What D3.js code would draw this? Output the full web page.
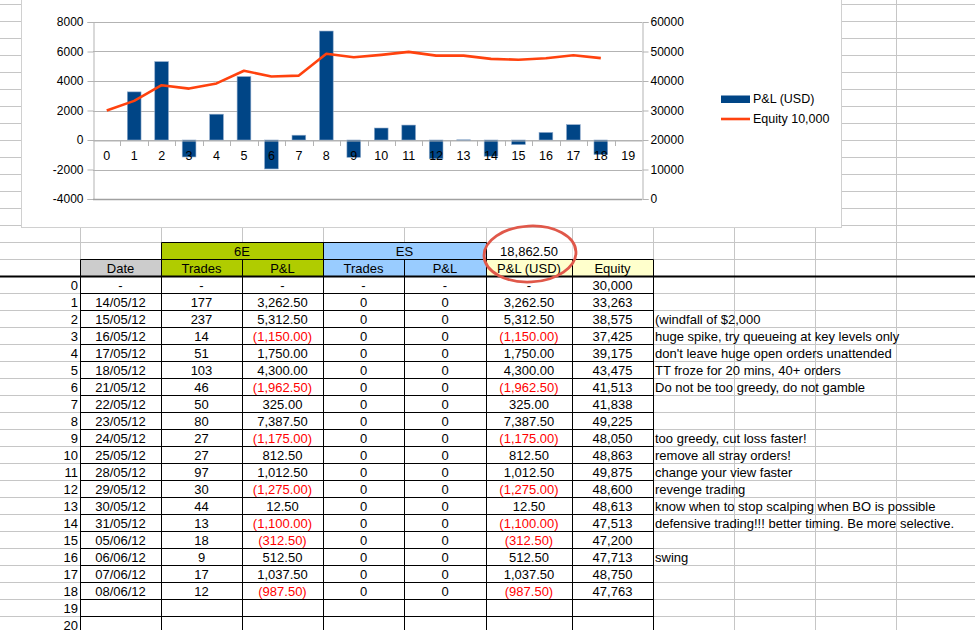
<!DOCTYPE html>
<html>
<head>
<meta charset="utf-8">
<script src="https://cdn.jsdelivr.net/npm/d3@7"></script>
<style>
  body { margin: 0; background: #fff; }
  svg { display: block; font-family: "Liberation Sans", Arial, sans-serif; }
  .cell { font-size: 13px; fill: #000; }
  .neg { fill: #ff0000; }
  .axis text { font-size: 12px; fill: #000; font-family: "Liberation Sans", Arial, sans-serif; }
</style>
</head>
<body>
<svg id="sheet" width="975" height="630"></svg>
<script>
// ---- data ----
const categories = d3.range(0, 20)          // chart x categories 0..19
const dates  = ["14/05/12","15/05/12","16/05/12","17/05/12","18/05/12","21/05/12","22/05/12","23/05/12","24/05/12",
                "25/05/12","28/05/12","29/05/12","30/05/12","31/05/12","05/06/12","06/06/12","07/06/12","08/06/12"]
const trades = [177,237,14,51,103,46,50,80,27,27,97,30,44,13,18,9,17,12]
const pnl    = [3262.5,5312.5,-1150,1750,4300,-1962.5,325,7387.5,-1175,812.5,1012.5,-1275,12.5,-1100,-312.5,512.5,1037.5,-987.5]
const equity = [30000,33263,38575,37425,39175,43475,41513,41838,49225,48050,48863,49875,48600,48613,47513,47200,47713,48750,47763]
const leftTicks  = [-4000,-2000,0,2000,4000,6000,8000]
const rightTicks = [0,10000,20000,30000,40000,50000,60000]
const seriesNames = ["P&L (USD)", "Equity 10,000"]
const notes = ["", "", "(windfall of $2,000", "huge spike, try queueing at key levels only",
               "don't leave huge open orders unattended", "TT froze for 20 mins, 40+ orders",
               "Do not be too greedy, do not gamble", "", "", "too greedy, cut loss faster!",
               "remove all stray orders!", "change your view faster", "revenge trading",
               "know when to stop scalping when BO is possible",
               "defensive trading!!! better timing. Be more selective.", "", "swing"]
const totalLabel = "18,862.50"

const svg = d3.select("#sheet")

// ---- sheet layout ----
const gridCols = [80,161,242,323,404,486,572,653,734,815,896,977]
const tableCols = gridCols.slice(0, 8)      // bordered table columns
const rowH = 17
const row0 = 276                            // top of data row 0
const gridGrey = "#c6c6c6"

// background grid
const grid = svg.append("g")
grid.selectAll(".h").data(d3.range(4, 631, rowH)).join("line")
    .attr("x1", 0).attr("x2", 975).attr("y1", d => d + 0.5).attr("y2", d => d + 0.5)
    .attr("stroke", gridGrey)
grid.selectAll(".v").data(gridCols).join("line")
    .attr("x1", d => d + 0.5).attr("x2", d => d + 0.5).attr("y1", 0).attr("y2", 630)
    .attr("stroke", gridGrey)

// ---- chart box ----
svg.append("rect").attr("x", 21.5).attr("y", -5).attr("width", 820).attr("height", 232.5)
    .attr("fill", "#fff").attr("stroke", "#d0d0d0")

const x = d3.scaleBand().domain(categories).range([93, 642])
const yL = d3.scaleLinear().domain([-4000, 8000]).range([199, 22])
const yR = d3.scaleLinear().domain([0, 60000]).range([199, 22])
const bw = x.bandwidth()

// horizontal gridlines
svg.append("g").selectAll("line").data(leftTicks).join("line")
    .attr("x1", 93).attr("x2", 642)
    .attr("y1", d => Math.round(yL(d)) + 0.5).attr("y2", d => Math.round(yL(d)) + 0.5)
    .attr("stroke", "#b3b3b3")

// left axis
const leftAxis = svg.append("g").attr("class", "axis").attr("transform", "translate(93.5,0)")
    .call(d3.axisLeft(yL).tickValues(leftTicks).tickSize(6).tickPadding(4).tickFormat(d => String(d)))
leftAxis.selectAll("line, path").attr("stroke", "#b3b3b3")

// right axis
const rightAxis = svg.append("g").attr("class", "axis").attr("transform", "translate(642.5,0)")
    .call(d3.axisRight(yR).tickValues(rightTicks).tickSize(6).tickPadding(2).tickFormat(d => String(d)))
rightAxis.selectAll("line, path").attr("stroke", "#b3b3b3")

// bottom frame
svg.append("line").attr("x1", 93).attr("x2", 642).attr("y1", 199.5).attr("y2", 199.5)
    .attr("stroke", "#a0a0a0").attr("stroke-width", 1.6)

// bars
svg.append("g").selectAll("rect").data(pnl).join("rect")
    .attr("x", (d, i) => x(i + 1) + bw / 4)
    .attr("width", bw / 2)
    .attr("y", d => yL(Math.max(0, d)))
    .attr("height", d => Math.max(0.6, Math.abs(yL(d) - yL(0))))
    .attr("fill", "#004586")
    .attr("stroke", "#8faacb").attr("stroke-width", 0.6)

// category axis on the zero line
const catAxis = svg.append("g").attr("class", "axis").attr("transform", `translate(0,${Math.round(yL(0)) + 0.5})`)
    .call(d3.axisBottom(x).tickSize(0).tickPadding(11))
catAxis.select("path").attr("stroke", "#b3b3b3")
catAxis.selectAll("text").style("font-size", "12.5px")
svg.append("g").selectAll("line").data(categories.slice(1)).join("line")
    .attr("x1", d => Math.round(x(d)) + 0.5).attr("x2", d => Math.round(x(d)) + 0.5)
    .attr("y1", yL(0)).attr("y2", yL(0) + 6)
    .attr("stroke", "#b3b3b3")

// equity line
svg.append("path").datum(equity)
    .attr("d", d3.line().x((d, i) => x(i) + bw / 2).y(d => yR(d)))
    .attr("fill", "none").attr("stroke", "#ff420e").attr("stroke-width", 2.6)
    .attr("stroke-linejoin", "round")

// legend
const legend = svg.append("g").attr("class", "axis")
legend.append("rect").attr("x", 721).attr("y", 95.5).attr("width", 29).attr("height", 7.5).attr("fill", "#004586")
legend.append("line").attr("x1", 721).attr("x2", 750).attr("y1", 119).attr("y2", 119)
    .attr("stroke", "#ff420e").attr("stroke-width", 2.6)
legend.selectAll("text").data(seriesNames).join("text")
    .attr("x", 753).attr("y", (d, i) => 99 + i * 20).attr("dy", "0.35em")
    .style("font-size", "12.5px").text(d => d)

// ---- table ----
const table = svg.append("g")
const cx = i => (tableCols[i] + tableCols[i + 1]) / 2

// header fills
const hdr1 = row0 - 2 * rowH, hdr2 = row0 - rowH
const fills = ["#cccccc", "#b0cc00", "#b0cc00", "#99ccff", "#99ccff", "#ffffcc", "#ffffcc"]
table.selectAll(".hf").data(fills).join("rect")
    .attr("x", (d, i) => tableCols[i] + 0.5).attr("y", hdr2 + 0.5)
    .attr("width", (d, i) => tableCols[i + 1] - tableCols[i]).attr("height", rowH)
    .attr("fill", d => d)
table.append("rect").attr("x", 161.5).attr("y", hdr1 + 0.5).attr("width", 162).attr("height", rowH).attr("fill", "#b0cc00")
table.append("rect").attr("x", 323.5).attr("y", hdr1 + 0.5).attr("width", 163).attr("height", rowH).attr("fill", "#99ccff")
table.append("rect").attr("x", 486.5).attr("y", hdr1 + 0.5).attr("width", 86).attr("height", rowH).attr("fill", "#fff")

// black borders
const blk = []
blk.push([161, hdr1, 486, hdr1], [161, hdr1, 161, hdr2], [323, hdr1, 323, hdr2], [486, hdr1, 486, hdr2])
blk.push([80, hdr2, 653, hdr2])
tableCols.forEach(c => blk.push([c, hdr2, c, 630]))
d3.range(1, 22).forEach(k => blk.push([80, row0 + k * rowH, 653, row0 + k * rowH]))
table.selectAll(".b").data(blk).join("line")
    .attr("x1", d => d[0] + 0.5).attr("y1", d => d[1] + 0.5).attr("x2", d => d[2] + 0.5).attr("y2", d => d[3] + 0.5)
    .attr("stroke", "#000")
table.append("line").attr("x1", 0).attr("x2", 975).attr("y1", row0 + 0.5).attr("y2", row0 + 0.5)
    .attr("stroke", "#000").attr("stroke-width", 2)

// header texts
const base = y => y + rowH / 2 + 5
const hdrTop = [["6E", 242], ["ES", 404.5], [totalLabel, 529]]
table.selectAll(".ht").data(hdrTop).join("text").attr("class", "cell")
    .attr("x", d => d[1]).attr("y", base(hdr1)).attr("text-anchor", "middle").text(d => d[0])
const hdrNames = ["Date", "Trades", "P&L", "Trades", "P&L", "P&L (USD)", "Equity"]
table.selectAll(".hn").data(hdrNames).join("text").attr("class", "cell")
    .attr("x", (d, i) => cx(i)).attr("y", base(hdr2)).attr("text-anchor", "middle").text(d => d)

// row numbers
table.selectAll(".rn").data(d3.range(0, 21)).join("text").attr("class", "cell")
    .attr("x", 78).attr("y", d => base(row0 + d * rowH)).attr("text-anchor", "end").text(d => d)

// data rows
const money = d3.format(",.2f")
const fmtPnl = v => v < 0 ? `(${money(-v)})` : money(v)
const rows = [["-", "-", "-", "-", "-", "-", d3.format(",")(equity[0])]]
dates.forEach((d, i) => rows.push([d, trades[i], fmtPnl(pnl[i]), "0", "0", fmtPnl(pnl[i]), d3.format(",")(equity[i + 1])]))
const cells = []
rows.forEach((r, ri) => r.forEach((v, ci) => cells.push({ v, ri, ci, neg: (ci === 2 || ci === 5) && ri > 0 && pnl[ri - 1] < 0 })))
table.selectAll(".dc").data(cells).join("text")
    .attr("class", d => d.neg ? "cell neg" : "cell")
    .attr("x", d => cx(d.ci)).attr("y", d => base(row0 + d.ri * rowH))
    .attr("text-anchor", "middle").text(d => d.v)

// notes
table.selectAll(".nt").data(notes).join("text").attr("class", "cell")
    .attr("x", 655).attr("y", (d, i) => base(row0 + i * rowH)).text(d => d)

// red circle
svg.append("ellipse").attr("cx", 530).attr("cy", 254).attr("rx", 46).attr("ry", 28)
    .attr("transform", "rotate(-3,530,254)")
    .attr("fill", "none").attr("stroke", "#e0584a").attr("stroke-width", 2.8)
</script>
</body>
</html>
